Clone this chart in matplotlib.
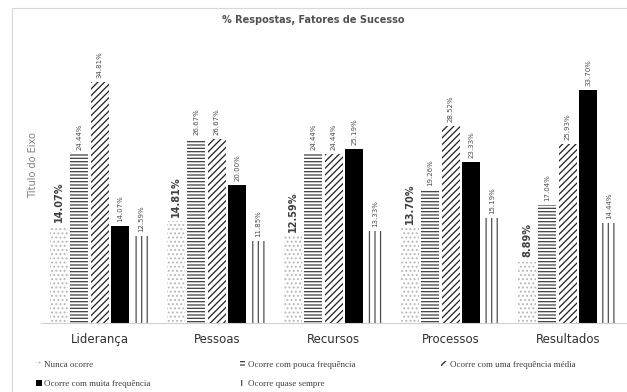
import numpy as np
import matplotlib
matplotlib.use("Agg")
import matplotlib.pyplot as plt
from matplotlib.patches import Patch

categories = ["Liderança", "Pessoas", "Recursos", "Processos", "Resultados"]
series = ["Nunca ocorre", "Ocorre com pouca frequência",
          "Ocorre com uma frequência média", "Ocorre com muita frequência",
          "Ocorre quase sempre"]
nunca = [14.07, 14.81, 12.59, 13.70, 8.89]
pouca = [24.44, 26.67, 24.44, 19.26, 17.04]
media = [34.81, 26.67, 24.44, 28.52, 25.93]
muita = [14.07, 20.00, 25.19, 23.33, 33.70]
quase = [12.59, 11.85, 13.33, 15.19, 14.44]
values = [nunca, pouca, media, muita, quase]

# face, hatch colour, hatch
styles = [
    ("white", "#b8b8b8", "...."),
    ("white", "#404040", "-----"),
    ("white", "#202020", "/////"),
    ("black", "black", None),
    ("white", "#505050", "|||"),
]

plt.rcParams["hatch.linewidth"] = 0.9

fig = plt.figure(figsize=(6.27, 3.92), dpi=100)
ax = fig.add_axes([0.066, 0.176, 0.933, 0.735])

x = np.arange(len(categories))
step = 0.175
w = 0.155
for i, vals in enumerate(values):
    face, hc, hatch = styles[i]
    pos = x + (i - 2) * step
    ax.bar(pos, vals, w, color=face, edgecolor=hc, hatch=hatch, linewidth=0)
    for px, v in zip(pos, vals):
        if i == 0:
            ax.text(px, v + 0.6, f"{v:.2f}%", rotation=90, ha="center", va="bottom",
                    fontsize=7, color="#404040", fontweight="bold")
        else:
            ax.text(px, v + 0.6, f"{v:.2f}%", rotation=90, ha="center", va="bottom",
                    fontsize=5, color="#505050")

ax.set_xlim(-0.5, len(categories) - 0.5)
ax.set_ylim(0, 41.7)
ax.set_xticks(x)
ax.set_xticklabels(categories, fontsize=8.5, color="#303030")
ax.tick_params(axis="x", length=0, pad=7)
ax.set_yticks([])
for s in ["top", "right", "left"]:
    ax.spines[s].set_visible(False)
ax.spines["bottom"].set_color("#d0d0d0")

fig.text(0.053, 0.58, "Título do Eixo", rotation=90, ha="center", va="center",
         fontsize=7, color="#808080")
fig.text(0.5, 0.948, "% Respostas, Fatores de Sucesso", ha="center", va="center",
         fontsize=7, color="#505050", fontweight="bold")

handles = []
for i, name in enumerate(series):
    face, hc, hatch = styles[i]
    handles.append(Patch(facecolor=face, edgecolor=hc, hatch=hatch, linewidth=0, label=name))

# legend laid out in three columns, filled row by row
columns = [[0, 3], [1, 4], [2]]
col_x = [0.058, 0.382, 0.704]
for idx, cx in zip(columns, col_x):
    leg = fig.legend([handles[k] for k in idx], [series[k] for k in idx],
                     loc="upper left", bbox_to_anchor=(cx, 0.08), frameon=False,
                     prop={"family": "Liberation Serif", "size": 6.5}, labelcolor="#404040",
                     handlelength=0.6, handleheight=0.6, handletextpad=0.3,
                     labelspacing=1.3, borderpad=0, borderaxespad=0)

# outer frame
fig.add_artist(plt.Rectangle((0.019, -0.01), 1.0, 0.99, transform=fig.transFigure,
                             fill=False, edgecolor="#d8d8d8", linewidth=0.8))

fig.savefig("out.png", dpi=100)
